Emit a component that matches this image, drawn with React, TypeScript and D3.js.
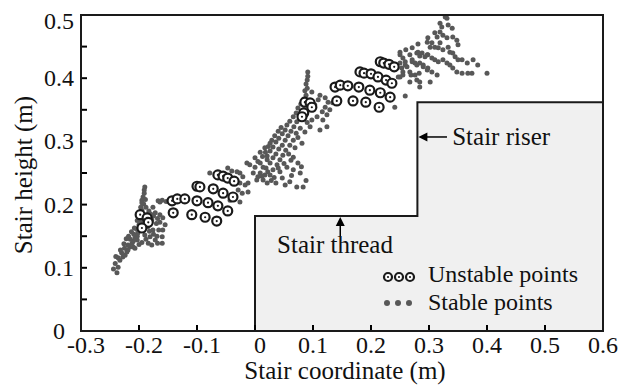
import React from 'react';
import * as d3 from 'd3';

// axis ticks
const xTicks = [-0.3, -0.2, -0.1, 0, 0.1, 0.2, 0.3, 0.4, 0.5, 0.6];
const yTicks = [0, 0.05, 0.1, 0.15, 0.2, 0.25, 0.3, 0.35, 0.4, 0.45, 0.5];
const yLabels = [0, 0.1, 0.2, 0.3, 0.4, 0.5];

// stair outline (x, y in m)
const stairX = [0, 0, 0.28, 0.28, 0.6, 0.6];
const stairY = [0, 0.182, 0.182, 0.362, 0.362, 0];

// unstable points (rings)
const unstableStep1: [number, number][] = [
  [-0.198, 0.184], [-0.186, 0.179], [-0.184, 0.172], [-0.195, 0.163],
  [-0.143, 0.206], [-0.134, 0.209], [-0.121, 0.209], [-0.1, 0.206], [-0.081, 0.203], [-0.064, 0.198], [-0.047, 0.19],
  [-0.141, 0.187], [-0.109, 0.184], [-0.086, 0.18], [-0.066, 0.174],
  [-0.1, 0.229], [-0.095, 0.228], [-0.072, 0.225], [-0.055, 0.218], [-0.038, 0.212],
  [-0.064, 0.247], [-0.055, 0.245], [-0.047, 0.242], [-0.036, 0.237],
];
const unstableStep2: [number, number][] = [
  [0.086, 0.362], [0.095, 0.361], [0.098, 0.354], [0.084, 0.345], [0.081, 0.339],
  [0.216, 0.426], [0.222, 0.424], [0.231, 0.422], [0.24, 0.418],
  [0.181, 0.41], [0.188, 0.408], [0.2, 0.407], [0.212, 0.402], [0.226, 0.397], [0.236, 0.392],
  [0.138, 0.386], [0.147, 0.389], [0.16, 0.388], [0.179, 0.386], [0.198, 0.381], [0.216, 0.377], [0.233, 0.37],
  [0.141, 0.364], [0.169, 0.364], [0.191, 0.362], [0.214, 0.354],
];

// stable points (grey dots)
const stableStep1: [number, number][] = [
  [-0.238, 0.092], [-0.236, 0.101], [-0.241, 0.107], [-0.233, 0.112], [-0.236, 0.116], [-0.228, 0.117],
  [-0.224, 0.12], [-0.23, 0.124], [-0.221, 0.125], [-0.219, 0.128], [-0.225, 0.131], [-0.216, 0.133],
  [-0.21, 0.133], [-0.219, 0.136], [-0.212, 0.139], [-0.207, 0.131], [-0.21, 0.142], [-0.215, 0.145],
  [-0.207, 0.147], [-0.203, 0.144], [-0.203, 0.15], [-0.209, 0.153], [-0.202, 0.155], [-0.198, 0.16],
  [-0.204, 0.161], [-0.195, 0.165], [-0.2, 0.168], [-0.197, 0.172], [-0.192, 0.176],
  [-0.244, 0.098], [-0.24, 0.118], [-0.232, 0.128], [-0.226, 0.138], [-0.222, 0.146], [-0.218, 0.15],
  [-0.213, 0.157], [-0.208, 0.163], [-0.203, 0.175], [-0.199, 0.178], [-0.196, 0.186], [-0.192, 0.201],
  [-0.189, 0.208], [-0.186, 0.184], [-0.18, 0.185], [-0.175, 0.182], [-0.168, 0.178], [-0.166, 0.16],
  [-0.169, 0.15], [-0.175, 0.153], [-0.182, 0.158], [-0.188, 0.145], [-0.195, 0.14], [-0.2, 0.137],
  [-0.168, 0.139],
  [-0.19, 0.228], [-0.191, 0.223], [-0.191, 0.218], [-0.193, 0.212], [-0.195, 0.207], [-0.195, 0.203],
  [-0.197, 0.196], [-0.195, 0.191], [-0.198, 0.188], [-0.2, 0.182], [-0.188, 0.196],
  [-0.172, 0.187], [-0.164, 0.184], [-0.159, 0.179], [-0.164, 0.172], [-0.155, 0.168], [-0.159, 0.16],
  [-0.16, 0.149], [-0.16, 0.139], [-0.172, 0.144], [-0.178, 0.136], [-0.184, 0.139], [-0.181, 0.149],
  [-0.19, 0.152], [-0.176, 0.16], [-0.17, 0.17], [-0.178, 0.176], [-0.183, 0.19], [-0.176, 0.196],
  [-0.185, 0.165], [-0.167, 0.206], [-0.16, 0.207], [-0.153, 0.205], [-0.164, 0.204],
  [-0.047, 0.258], [-0.04, 0.253], [-0.031, 0.252], [-0.026, 0.25], [-0.021, 0.244], [-0.026, 0.234],
  [-0.017, 0.231], [-0.029, 0.223], [-0.038, 0.215], [-0.022, 0.218], [-0.012, 0.22], [-0.043, 0.207],
  [-0.026, 0.204], [-0.078, 0.25],
];
const stableStep2: [number, number][] = [
  [-0.009, 0.263], [0.0, 0.259], [0.009, 0.266], [0.014, 0.259], [0.021, 0.271], [0.009, 0.25],
  [0.017, 0.247], [0.003, 0.239], [-0.012, 0.234], [0.021, 0.234], [0.022, 0.252],
  [0.091, 0.41], [0.091, 0.403], [0.09, 0.397], [0.088, 0.391], [0.09, 0.384], [0.086, 0.38],
  [0.088, 0.373], [0.084, 0.367],
  [0.079, 0.359], [0.074, 0.353], [0.071, 0.345], [0.066, 0.339], [0.06, 0.332], [0.055, 0.326],
  [0.052, 0.318], [0.047, 0.312], [0.041, 0.305], [0.036, 0.299], [0.031, 0.291], [0.026, 0.285],
  [0.021, 0.277],
  [0.083, 0.347], [0.078, 0.339], [0.072, 0.331], [0.067, 0.323], [0.062, 0.316], [0.057, 0.309],
  [0.052, 0.302], [0.047, 0.294], [0.041, 0.288], [0.036, 0.28], [0.031, 0.274], [0.026, 0.266],
  [0.019, 0.258], [0.012, 0.245],
  [0.078, 0.321], [0.071, 0.313], [0.066, 0.302], [0.06, 0.294], [0.053, 0.286], [0.048, 0.278],
  [0.043, 0.271], [0.038, 0.263], [0.031, 0.255], [0.026, 0.247],
  [0.045, 0.322], [0.04, 0.316], [0.034, 0.309], [0.029, 0.302], [0.023, 0.292], [0.018, 0.283],
  [0.013, 0.276], [0.005, 0.268], [0.058, 0.28], [0.062, 0.27], [0.05, 0.265], [0.04, 0.258],
  [0.033, 0.243], [0.028, 0.238], [0.069, 0.29], [0.074, 0.306], [0.086, 0.315], [0.09, 0.33],
  [0.063, 0.246], [0.088, 0.238], [0.08, 0.26],
  [0.098, 0.334], [0.095, 0.323], [0.081, 0.297], [0.066, 0.275], [0.074, 0.266], [0.055, 0.259],
  [0.066, 0.255], [0.078, 0.25], [0.072, 0.228], [0.083, 0.228], [0.06, 0.236], [0.047, 0.242],
  [0.036, 0.234], [0.052, 0.231], [0.043, 0.252],
  [-0.014, 0.266], [-0.003, 0.25], [0.005, 0.244], [0.014, 0.239], [0.0, 0.274], [0.009, 0.283],
  [0.017, 0.29], [0.026, 0.297],
  [0.103, 0.358], [0.109, 0.366], [0.112, 0.373], [0.121, 0.369], [0.126, 0.362], [0.121, 0.354],
  [0.116, 0.347], [0.107, 0.339], [0.117, 0.334], [0.124, 0.342], [0.129, 0.35], [0.134, 0.361],
  [0.124, 0.323], [0.112, 0.318], [0.1, 0.35], [0.098, 0.378],
];
const stableStep3: [number, number][] = [
  [0.25, 0.437], [0.255, 0.432], [0.271, 0.426], [0.279, 0.44], [0.284, 0.435], [0.297, 0.437],
  [0.259, 0.421], [0.279, 0.421], [0.29, 0.421], [0.298, 0.416], [0.255, 0.41], [0.269, 0.405],
  [0.283, 0.408], [0.25, 0.402], [0.267, 0.394], [0.284, 0.394], [0.284, 0.386], [0.259, 0.372],
  [0.241, 0.354],
  [0.328, 0.497], [0.331, 0.495], [0.319, 0.487], [0.322, 0.481], [0.333, 0.484], [0.34, 0.479],
  [0.319, 0.473], [0.31, 0.472], [0.314, 0.465], [0.324, 0.468], [0.331, 0.464], [0.341, 0.465],
  [0.348, 0.46], [0.35, 0.453], [0.298, 0.464], [0.297, 0.457], [0.305, 0.456], [0.302, 0.449],
  [0.31, 0.449], [0.319, 0.456], [0.316, 0.448], [0.324, 0.445], [0.333, 0.449], [0.336, 0.441],
  [0.341, 0.44], [0.345, 0.434], [0.35, 0.429], [0.281, 0.441], [0.288, 0.44], [0.293, 0.434],
  [0.298, 0.437], [0.305, 0.432], [0.31, 0.429], [0.316, 0.426], [0.324, 0.429], [0.331, 0.424],
  [0.336, 0.421], [0.341, 0.416], [0.348, 0.41], [0.267, 0.437], [0.271, 0.429], [0.276, 0.424],
  [0.284, 0.424], [0.29, 0.418], [0.297, 0.413], [0.305, 0.41], [0.314, 0.405], [0.259, 0.426],
  [0.262, 0.418], [0.267, 0.41], [0.276, 0.405], [0.279, 0.397], [0.302, 0.394], [0.357, 0.429],
  [0.366, 0.424], [0.376, 0.429], [0.384, 0.421], [0.367, 0.408], [0.357, 0.408], [0.4, 0.408],
  [0.374, 0.408], [0.25, 0.424], [0.253, 0.416], [0.255, 0.405], [0.247, 0.402],
  [0.281, 0.454], [0.271, 0.448], [0.26, 0.445], [0.25, 0.441],
];

const W = 629;
const H = 385;
const m = { left: 81, right: 26, top: 15, bottom: 54 };
const FONT = '"Liberation Serif", "Times New Roman", serif';
const FS = 24;

const App = () => {
  const x = d3.scaleLinear().domain([-0.3, 0.6]).range([m.left, W - m.right]);
  const y = d3.scaleLinear().domain([0, 0.5]).range([H - m.bottom, m.top]);
  const x0 = x(-0.3);
  const x1 = x(0.6);
  const y0 = y(0);
  const y1 = y(0.5);

  const stairLine = d3
    .line<number>()
    .x((i) => x(stairX[i]))
    .y((i) => y(stairY[i]));
  const stairPath = stairLine(d3.range(stairX.length)) + 'Z';

  const stable = [...stableStep1, ...stableStep2, ...stableStep3];
  const unstable = [...unstableStep1, ...unstableStep2];

  const ring = (cx: number, cy: number, k: string, r = 4.5) => (
    <g key={k}>
      <circle cx={cx} cy={cy} r={r} fill="#fff" stroke="#1a1a1a" strokeWidth={2.2} />
      <circle cx={cx} cy={cy} r={1.1} fill="#1a1a1a" />
    </g>
  );

  return (
    <svg
      width={W}
      height={H}
      style={{ position: 'absolute', left: 0, top: 0, background: '#fff' }}
      fontFamily={FONT}
    >
      <rect width={W} height={H} fill="#fff" />

      {/* stair */}
      <path d={stairPath} fill="#f0f0f0" stroke="#1a1a1a" strokeWidth={2} />

      {/* stable points */}
      {stable.map((d, i) => (
        <circle key={'s' + i} cx={x(d[0])} cy={y(d[1])} r={2.5} fill="#585858" />
      ))}

      {/* unstable points */}
      {unstable.map((d, i) => ring(x(d[0]), y(d[1]), 'u' + i))}

      {/* annotations */}
      <line x1={x(0.331)} y1={y(0.307)} x2={x(0.28) + 8} y2={y(0.307)} stroke="#000" strokeWidth={1.5} />
      <path d={`M${x(0.28) + 1},${y(0.307)} l9,-4.5 l0,9 Z`} fill="#000" />
      <text x={x(0.34)} y={y(0.294)} fontSize={FS + 1} fill="#111">
        Stair riser
      </text>
      <line x1={x(0.147)} y1={y(0.15)} x2={x(0.147)} y2={y(0.182) + 8} stroke="#000" strokeWidth={1.5} />
      <path d={`M${x(0.147)},${y(0.182) + 1} l-4.5,9 l9,0 Z`} fill="#000" />
      <text x={x(0.038)} y={y(0.123)} fontSize={FS + 1} fill="#111">
        Stair thread
      </text>

      {/* legend */}
      {[388, 399, 410].map((cx, i) => ring(cx, 277, 'l' + i, 4))}
      {[387, 398, 409].map((cx, i) => (
        <circle key={'ls' + i} cx={cx} cy={303} r={3} fill="#585858" />
      ))}
      <text x={428} y={282} fontSize={FS} fill="#111">
        Unstable points
      </text>
      <text x={428} y={310} fontSize={FS} fill="#111">
        Stable points
      </text>

      {/* ticks */}
      {xTicks.map((t) => (
        <line key={'xt' + t} x1={x(t)} x2={x(t)} y1={y0} y2={y0 - 6} stroke="#000" strokeWidth={2} />
      ))}
      {yTicks.map((t) => (
        <line key={'yt' + t} x1={x0} x2={x0 + 6} y1={y(t)} y2={y(t)} stroke="#000" strokeWidth={2} />
      ))}

      {/* frame */}
      <rect x={x0} y={y1} width={x1 - x0} height={y0 - y1} fill="none" stroke="#1a1a1a" strokeWidth={2} />

      {/* tick labels */}
      {xTicks.map((t) => (
        <text
          key={'xl' + t}
          x={x(t) + (t <= 0 ? 5 : 0)}
          y={y0 + 22}
          fontSize={FS}
          textAnchor="middle"
          fill="#111"
        >
          {t === 0 ? '0' : d3.format('.1f')(t).replace('−', '-')}
        </text>
      ))}
      {yLabels.map((t) => (
        <text
          key={'yl' + t}
          x={59}
          y={y(t) + (t === 0.5 ? 14 : 8)}
          fontSize={FS}
          textAnchor="middle"
          fill="#111"
        >
          {t === 0 ? '0' : d3.format('.1f')(t)}
        </text>
      ))}

      {/* axis titles */}
      <text x={345} y={379} fontSize={FS + 1} textAnchor="middle" fill="#111">
        Stair coordinate (m)
      </text>
      <text
        transform={`translate(32, 175) rotate(-90)`}
        fontSize={FS + 1}
        textAnchor="middle"
        fill="#111"
      >
        Stair height (m)
      </text>
    </svg>
  );
};

export default App;
